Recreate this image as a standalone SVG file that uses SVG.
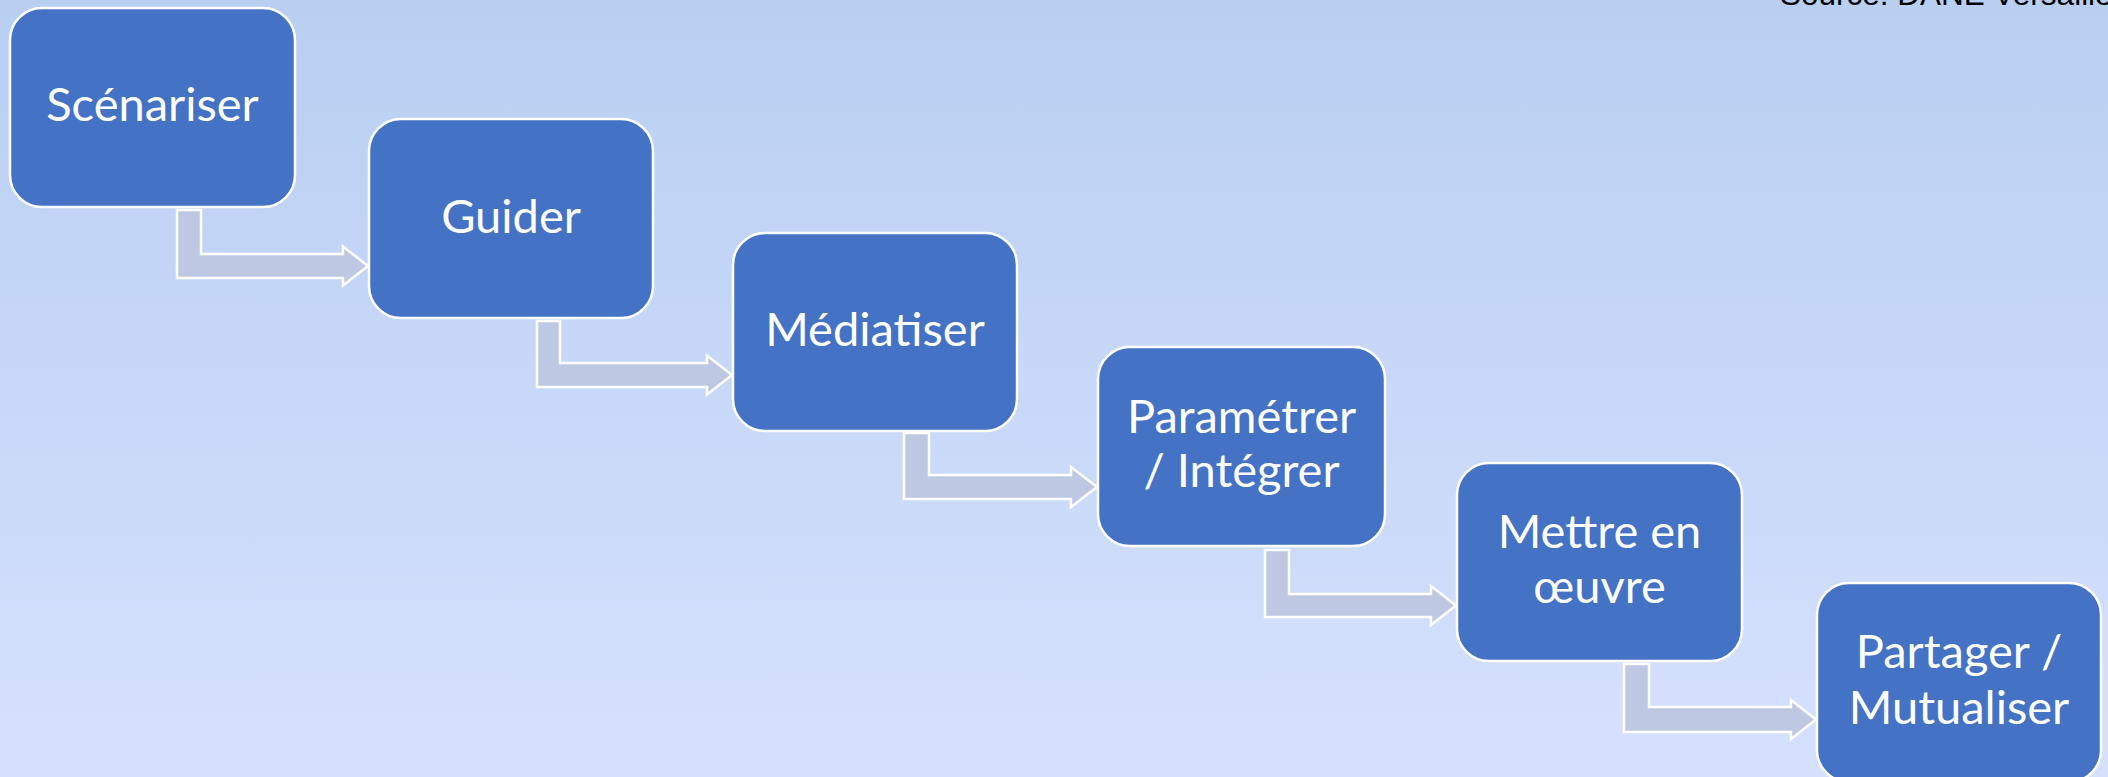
<svg xmlns="http://www.w3.org/2000/svg" width="2108" height="777" viewBox="0 0 2108 777">
  <defs>
    <linearGradient id="bg" x1="0" y1="0" x2="0" y2="1">
      <stop offset="0" stop-color="#B9CFF2"/>
      <stop offset="1" stop-color="#D6E1FE"/>
    </linearGradient>
  </defs>
  <style>
    .box { fill: #4472C4; stroke: #FFFFFF; stroke-width: 2.5; }
    .lbl { fill: #FFFFFF; font-family: Lato, "Open Sans", sans-serif; font-size: 47px; text-anchor: middle; }
    .arr { fill: #BFC8E2; stroke: #FFFFFF; stroke-width: 2.5; stroke-linejoin: miter; }
    .src { fill: #000000; font-family: "Liberation Sans", Arial, sans-serif; font-size: 31.5px; }
  </style>
  <rect x="0" y="0" width="2108" height="777" fill="url(#bg)"/>
  <text class="src" x="1780" y="4.5">Source: DANE Versailles</text>

  <g id="connectors">
    <path class="arr" d="M177,210 L201,210 L201,254 L343,254 L343,246.5 L368,266 L343,285.5 L343,278 L177,278 Z"/>
    <path class="arr" d="M537,321 L560,321 L560,363 L707,363 L707,355.5 L732,375 L707,394.5 L707,387 L537,387 Z"/>
    <path class="arr" d="M904,433 L929,433 L929,475 L1071,475 L1071,467 L1097,487 L1071,507 L1071,499 L904,499 Z"/>
    <path class="arr" d="M1265,550 L1289,550 L1289,594 L1431,594 L1431,586 L1456,605.5 L1431,625 L1431,617 L1265,617 Z"/>
    <path class="arr" d="M1624,664 L1649,664 L1649,707 L1791,707 L1791,700 L1816,719.5 L1791,739 L1791,732 L1624,732 Z"/>
  </g>

  <g id="n1">
    <rect class="box" x="10" y="8" width="285" height="199" rx="32" ry="32"/>
    <text class="lbl" x="152.5" y="121">Scénariser</text>
  </g>
  <g id="n2">
    <rect class="box" x="369" y="119" width="284" height="199" rx="32" ry="32"/>
    <text class="lbl" x="511" y="233">Guider</text>
  </g>
  <g id="n3">
    <rect class="box" x="733" y="233" width="284" height="198" rx="32" ry="32"/>
    <text class="lbl" x="875" y="346">Médiatiser</text>
  </g>
  <g id="n4">
    <rect class="box" x="1098" y="347" width="287" height="199" rx="32" ry="32"/>
    <text class="lbl" x="1241.5" y="432.5">Paramétrer</text>
    <text class="lbl" x="1241.5" y="487">/ Intégrer</text>
  </g>
  <g id="n5">
    <rect class="box" x="1457" y="463" width="285" height="198" rx="32" ry="32"/>
    <text class="lbl" x="1599.5" y="548">Mettre en</text>
    <text class="lbl" x="1599.5" y="603">œuvre</text>
  </g>
  <g id="n6">
    <rect class="box" x="1817" y="583" width="284" height="199" rx="32" ry="32"/>
    <text class="lbl" x="1959" y="668">Partager /</text>
    <text class="lbl" x="1959" y="724">Mutualiser</text>
  </g>
</svg>
